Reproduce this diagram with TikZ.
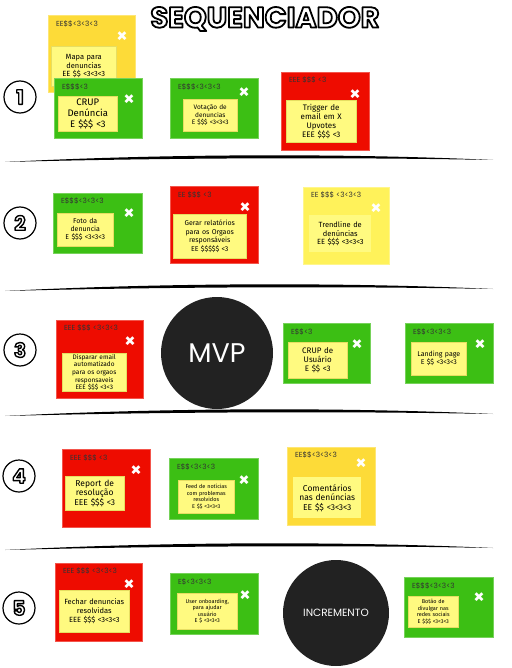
\documentclass[tikz,border=0pt]{standalone}
\usepackage{fontspec}
\setmainfont{Poppins}
\newfontfamily\handfont{Fira Sans}
\usetikzlibrary{positioning}
\definecolor{notered}{HTML}{EE0C00}
\definecolor{notegreen}{HTML}{3CBF14}
\definecolor{notegold}{HTML}{FDDB38}
\definecolor{noteyellow}{HTML}{FFF25A}
\definecolor{notepale}{HTML}{FFFA80}
\definecolor{paleedge}{HTML}{E6DE62}
\definecolor{tagtext}{HTML}{333333}
\definecolor{dotdark}{HTML}{222222}
% white letters with a black outline
\newcommand\hollow[2][1.1]{\special{pdf:literal direct q 2 Tr #1 w 0 G 1 j}#2\special{pdf:literal direct Q}}

\begin{document}
\begin{tikzpicture}[
    x=1pt, y=-1pt,
    note/.style={anchor=north west, inner sep=0pt, fill=#1, draw=#1!70!white, line width=0.6pt},
    tag/.style={inner sep=0pt, text=tagtext, font=\fontsize{7.3}{8}\selectfont},
    shut/.style={inner sep=0pt, text=white, font=\bfseries\fontsize{18}{18}\selectfont},
    idea/.style={anchor=north west, fill=notepale, draw=paleedge, line width=0.5pt, inner sep=1pt, align=center},
    stage/.style={circle, draw, line width=1.2pt, minimum size=32, inner sep=0pt, text=white, font=\bfseries\fontsize{20}{20}\selectfont},
    bigdot/.style={circle, fill=dotdark, text=white, inner sep=0pt}
]
\useasboundingbox (0,0) rectangle (511,668);

\node[text=white, font=\bfseries\fontsize{29}{29}\selectfont] (title) at (265,19) {\hollow[1.8]{SEQUENCIADOR}};

% stages
\node[stage] (one) at (20,97) {\hollow[1.4]{1}};
\node[stage] (two) at (20,223) {\hollow[1.4]{2}};
\node[stage] (three) at (20,350) {\hollow[1.4]{3}};
\node[stage] (four) at (19,476) {\hollow[1.4]{4}};
\node[stage] (five) at (19,608) {\hollow[1.4]{5}};

% hand drawn separators
\foreach \y in {160,289,414,548}
  \fill (5,\y+2) .. controls (160,\y-6) and (340,\y-7) .. (493,\y) .. controls (340,\y-3) and (160,\y-2) .. (5,\y+2) -- cycle;

% row 1
\node[note=notegold, minimum width=87, minimum height=77] (mapa) at (48,15) {};
\node[tag, below right=6pt and 8pt of mapa.north west] (mapaTag) {EE\$\$<3<3<3};
\node[shut] (mapaX) at (122,37) {×};
\node[idea, text width=63, minimum height=40, font=\handfont\fontsize{7.5}{8.5}\selectfont] (mapaTxt) at (51,46) {Mapa para\\denuncias\\EE \$\$ <3<3<3};

\node[note=notegreen, minimum width=88, minimum height=60] (crup) at (54,78) {};
\node[tag, below right=6pt and 8pt of crup.north west] (crupTag) {E\$\$\$<3};
\node[shut] (crupX) at (129,100) {×};
\node[idea, text width=57, minimum height=35, font=\handfont\fontsize{9.5}{11}\selectfont] (crupTxt) at (58,96) {CRUP\\Denúncia\\E \$\$\$ <3};

\node[note=notegreen, minimum width=88, minimum height=60] (voto) at (170,78) {};
\node[tag, below right=6pt and 8pt of voto.north west] (votoTag) {E\$\$\$<3<3<3};
\node[shut] (votoX) at (244,93) {×};
\node[idea, text width=52, minimum height=32, font=\handfont\fontsize{6.5}{7.5}\selectfont] (votoTxt) at (183,99) {Votação de\\denuncias\\E \$\$\$ <3<3<3};

\node[note=notered, minimum width=88, minimum height=78] (trigger) at (281,72) {};
\node[tag, below right=5pt and 8pt of trigger.north west] (triggerTag) {EEE \$\$\$ <3};
\node[shut] (triggerX) at (355,95) {×};
\node[idea, text width=68, minimum height=42, font=\handfont\fontsize{8}{9}\selectfont] (triggerTxt) at (286,100) {Trigger de\\email em X\\Upvotes\\EEE \$\$\$ <3};

% row 2
\node[note=notegreen, minimum width=89, minimum height=60] (foto) at (53,193) {};
\node[tag, below right=5pt and 8pt of foto.north west] (fotoTag) {E\$\$\$<3<3<3};
\node[shut] (fotoX) at (129,214) {×};
\node[idea, text width=54, minimum height=33, font=\handfont\fontsize{7}{8}\selectfont] (fotoTxt) at (57,213) {Foto da\\denuncia\\E \$\$\$ <3<3<3};

\node[note=notered, minimum width=88, minimum height=77] (gerar) at (170,186) {};
\node[tag, below right=6pt and 8pt of gerar.north west] (gerarTag) {EE \$\$\$ <3};
\node[shut] (gerarX) at (245,208) {×};
\node[idea, text width=71, minimum height=44, font=\handfont\fontsize{7}{8.5}\selectfont] (gerarTxt) at (173,214) {Gerar relatórios\\para os Orgaos\\responsáveis\\EE \$\$\$\$\$ <3};

\node[note=noteyellow, minimum width=86, minimum height=77] (trend) at (303,187) {};
\node[tag, below right=5pt and 8pt of trend.north west] (trendTag) {EE \$\$\$ <3<3<3};
\node[shut] (trendX) at (376,209) {×};
\node[idea, draw=none, text width=60, minimum height=37, font=\handfont\fontsize{7.5}{8.5}\selectfont] (trendTxt) at (309,215) {Trendline de\\denúncias\\EE \$\$\$ <3<3<3};

% row 3
\node[note=notered, minimum width=87, minimum height=78] (disparo) at (56,320) {};
\node[tag, below right=5pt and 8pt of disparo.north west] (disparoTag) {EEE \$\$\$ <3<3<3};
\node[shut] (disparoX) at (130,342) {×};
\node[idea, text width=62, minimum height=38, font=\handfont\fontsize{6.5}{7.6}\selectfont] (disparoTxt) at (62,353) {Disparar email\\automatizado\\para os orgaos\\responsaveis\\EEE \$\$\$ <3<3};

\node[bigdot, minimum size=112, font=\fontsize{27}{27}\selectfont] (mvp) at (217,353) {MVP};

\node[note=notegreen, minimum width=87, minimum height=60] (usuario) at (283,323) {};
\node[tag, below right=6pt and 8pt of usuario.north west] (usuarioTag) {E\$\$<3};
\node[shut] (usuarioX) at (357,345) {×};
\node[idea, text width=57, minimum height=36, font=\handfont\fontsize{8}{9}\selectfont] (usuarioTxt) at (288,342) {CRUP de\\Usuário\\E \$\$ <3};

\node[note=notegreen, minimum width=88, minimum height=60] (landing) at (405,323) {};
\node[tag, below right=6pt and 8pt of landing.north west] (landingTag) {E\$\$<3<3<3};
\node[shut] (landingX) at (480,345) {×};
\node[idea, text width=53, minimum height=33, font=\handfont\fontsize{7}{8}\selectfont] (landingTxt) at (411,342) {Landing page\\E \$\$ <3<3<3};

% row 4
\node[note=notered, minimum width=88, minimum height=78] (report) at (62,449) {};
\node[tag, below right=6pt and 8pt of report.north west] (reportTag) {EEE \$\$\$ <3};
\node[shut] (reportX) at (136,471) {×};
\node[idea, text width=57, minimum height=34, font=\handfont\fontsize{8.5}{9.5}\selectfont] (reportTxt) at (65,476) {Report de\\resolução\\EEE \$\$\$ <3};

\node[note=notegreen, minimum width=89, minimum height=61] (feed) at (169,458) {};
\node[tag, below right=6pt and 8pt of feed.north west] (feedTag) {E\$\$<3<3<3};
\node[shut] (feedX) at (244,481) {×};
\node[idea, text width=54, minimum height=33, font=\handfont\fontsize{5.5}{6.6}\selectfont] (feedTxt) at (178,480) {Feed de notícias\\com problemas\\resolvidos\\E \$\$ <3<3<3};

\node[note=notegold, minimum width=88, minimum height=78] (coment) at (287,447) {};
\node[tag, below right=5pt and 8pt of coment.north west] (comentTag) {EE\$\$<3<3<3};
\node[shut] (comentX) at (361,464) {×};
\node[idea, draw=none, text width=66, minimum height=41, font=\handfont\fontsize{8.5}{9.5}\selectfont] (comentTxt) at (293,477) {Comentários\\nas denúncias\\EE \$\$ <3<3<3};

% row 5
\node[note=notered, minimum width=87, minimum height=78] (fechar) at (55,563) {};
\node[tag, below right=5pt and 8pt of fechar.north west] (fecharTag) {EEE \$\$\$ <3<3<3};
\node[shut] (fecharX) at (129,585) {×};
\node[idea, text width=68, minimum height=42, font=\handfont\fontsize{7.5}{8.8}\selectfont] (fecharTxt) at (59,590) {Fechar denuncias\\resolvidas\\EEE \$\$\$ <3<3<3};

\node[note=notegreen, minimum width=88, minimum height=61] (onboard) at (170,573) {};
\node[tag, below right=6pt and 8pt of onboard.north west] (onboardTag) {E\$<3<3<3};
\node[shut] (onboardX) at (245,596) {×};
\node[idea, text width=58, minimum height=36, font=\handfont\fontsize{5.5}{6.6}\selectfont] (onboardTxt) at (177,593) {User onboarding,\\para ajudar\\usuário\\E \$ <3<3<3};

\node[bigdot, minimum size=106, font=\fontsize{10.5}{11}\selectfont] (incremento) at (336,613) {INCREMENTO};

\node[note=notegreen, minimum width=89, minimum height=60] (botao) at (404,577) {};
\node[tag, below right=6pt and 8pt of botao.north west] (botaoTag) {E\$\$\$<3<3<3};
\node[shut] (botaoX) at (479,598) {×};
\node[idea, text width=48, minimum height=31, font=\handfont\fontsize{5.5}{6.4}\selectfont] (botaoTxt) at (408,596) {Botão de\\divulgar nas\\redes sociais\\E \$\$\$ <3<3<3};

\end{tikzpicture}
\end{document}
